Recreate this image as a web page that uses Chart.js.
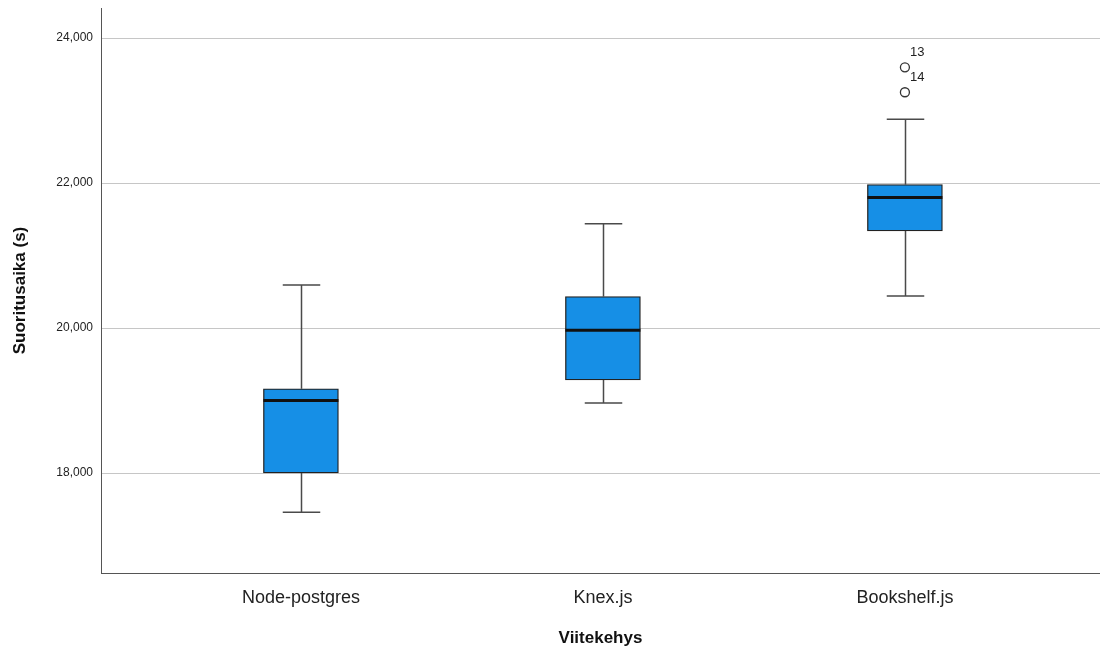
<!DOCTYPE html>
<html>
<head>
<meta charset="utf-8">
<script src="https://cdn.jsdelivr.net/npm/chart.js@4.4.1/dist/chart.umd.min.js"></script>
<style>
  body { margin: 0; background: #fff; }
  #wrap { width: 1100px; height: 650px; }
</style>
</head>
<body>
<div id="wrap"><canvas id="chart"></canvas></div>
<script>
// box plot values
const categories = ["Node-postgres", "Knex.js", "Bookshelf.js"];
const whiskerLow = [17460, 18965, 20441];
const q1 = [18002, 19285, 21340];
const median = [19000, 19968, 21800];
const q3 = [19162, 20435, 21978];
const whiskerHigh = [20593, 21438, 22880];

// outliers (case numbers shown as labels)
const outlierCategory = ["Bookshelf.js", "Bookshelf.js"];
const outlierValues = [23596, 23252];
const outlierCases = ["13", "14"];

const yTicks = [18000, 20000, 22000, 24000];

const pos = (name) => categories.indexOf(name) + 1;

const boxData = categories.map((c, i) => ({ x: i + 1, y: [q1[i], q3[i]] }));
const outlierData = outlierValues.map((v, i) => ({ x: pos(outlierCategory[i]), y: v }));

const boxPlotPlugin = {
  id: "boxPlot",
  beforeDatasetsDraw(chart) {
    const { ctx, scales } = chart;
    const meta = chart.getDatasetMeta(0);
    ctx.save();
    ctx.strokeStyle = "#4a4a4a";
    ctx.lineWidth = 1.5;
    meta.data.forEach((bar, i) => {
      const x = Math.round(bar.x) + 0.5;
      const half = bar.width / 4;
      const yLo = scales.y.getPixelForValue(whiskerLow[i]);
      const yHi = scales.y.getPixelForValue(whiskerHigh[i]);
      const yQ1 = scales.y.getPixelForValue(q1[i]);
      const yQ3 = scales.y.getPixelForValue(q3[i]);
      ctx.beginPath();
      ctx.moveTo(x, yHi); ctx.lineTo(x, yQ3);
      ctx.moveTo(x, yQ1); ctx.lineTo(x, yLo);
      ctx.moveTo(x - half, yHi); ctx.lineTo(x + half, yHi);
      ctx.moveTo(x - half, yLo); ctx.lineTo(x + half, yLo);
      ctx.stroke();
    });
    ctx.restore();
  },
  afterDatasetsDraw(chart) {
    const { ctx, scales } = chart;
    const meta = chart.getDatasetMeta(0);
    ctx.save();
    // medians
    ctx.strokeStyle = "#111";
    ctx.lineWidth = 3;
    meta.data.forEach((bar, i) => {
      const y = scales.y.getPixelForValue(median[i]);
      ctx.beginPath();
      ctx.moveTo(bar.x - bar.width / 2, y);
      ctx.lineTo(bar.x + bar.width / 2, y);
      ctx.stroke();
    });
    // outlier case labels
    ctx.fillStyle = "#222";
    ctx.font = "13px 'Liberation Sans', Arial, sans-serif";
    ctx.textAlign = "left";
    ctx.textBaseline = "middle";
    outlierData.forEach((p, i) => {
      const x = scales.x.getPixelForValue(p.x);
      const y = scales.y.getPixelForValue(p.y);
      ctx.fillText(outlierCases[i], x + 5, y - 15);
    });
    ctx.restore();
  }
};

new Chart(document.getElementById("chart"), {
  type: "bar",
  data: {
    datasets: [
      {
        label: "box",
        data: boxData,
        backgroundColor: "#168fe6",
        borderColor: "#222",
        borderWidth: 1.3,
        borderSkipped: false,
        barThickness: 75
      },
      {
        type: "scatter",
        label: "outliers",
        data: outlierData,
        pointStyle: "circle",
        pointRadius: 4.5,
        pointBackgroundColor: "#fff",
        pointBorderColor: "#333",
        pointBorderWidth: 1.3
      }
    ]
  },
  options: {
    responsive: true,
    maintainAspectRatio: false,
    animation: false,
    layout: { autoPadding: false, padding: { top: 8, right: 0, bottom: 0, left: 0 } },
    plugins: { legend: { display: false }, tooltip: { enabled: false } },
    scales: {
      x: {
        type: "linear",
        offset: false,
        min: 0.338,
        max: 3.646,
        grid: { display: false, drawTicks: false, offset: false },
        border: { color: "#555", width: 1 },
        afterBuildTicks: (scale) => { scale.ticks = categories.map((c, i) => ({ value: i + 1 })); },
        afterFit: (scale) => {
          scale.height = 77;
          scale.paddingLeft = 0;
          scale.paddingRight = 0;
        },
        ticks: {
          callback: (v) => categories[v - 1] || "",
          color: "#222",
          padding: 14,
          maxRotation: 0,
          font: { family: "'Liberation Sans', Arial, sans-serif", size: 18 }
        },
        title: {
          display: true,
          text: "Viitekehys",
          color: "#111",
          padding: { top: 0, bottom: 1 },
          font: { family: "'Liberation Sans', Arial, sans-serif", size: 17, weight: "bold" }
        }
      },
      y: {
        min: 16621,
        max: 24414,
        grid: { color: "#c6c6c6", lineWidth: 1, drawTicks: false },
        border: { color: "#555", width: 1 },
        afterBuildTicks: (scale) => { scale.ticks = yTicks.map((v) => ({ value: v })); },
        afterFit: (scale) => {
          scale.width = 101;
          scale.paddingTop = 0;
          scale.paddingBottom = 0;
        },
        ticks: {
          callback: (v) => v.toLocaleString("en-US"),
          color: "#222",
          padding: 8,
          font: { family: "'Liberation Sans', Arial, sans-serif", size: 12 }
        },
        title: {
          display: true,
          text: "Suoritusaika (s)",
          color: "#111",
          padding: { top: 10, bottom: 0 },
          font: { family: "'Liberation Sans', Arial, sans-serif", size: 17, weight: "bold" }
        }
      }
    }
  },
  plugins: [boxPlotPlugin]
});
</script>
</body>
</html>
